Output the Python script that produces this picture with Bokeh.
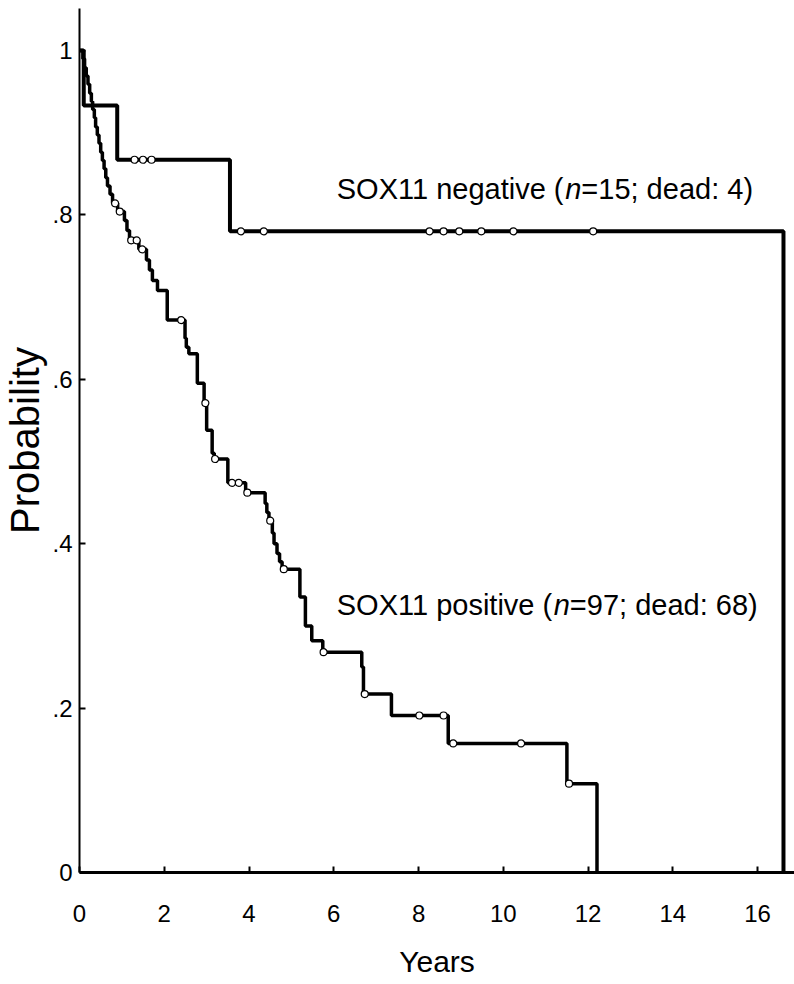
from bokeh.plotting import figure
from bokeh.models import Range1d, FixedTicker, CustomJSTickFormatter
from bokeh.core.properties import value
from bokeh.embed import file_html
from bokeh.resources import INLINE

# ---------------- data ----------------
# SOX11 negative (n=15; dead: 4): Kaplan-Meier step points (year of drop, survival after drop)
neg_step_years = [0.00, 0.10, 0.89, 3.55, 16.61]
neg_step_surv = [1.000, 0.933, 0.867, 0.780, 0.000]
neg_censor_years = [1.30, 1.50, 1.70, 3.81, 4.35, 8.26, 8.59, 8.96, 9.48, 10.24, 12.12]

# SOX11 positive (n=97; dead: 68)
pos_step_years = [0.00, 0.08, 0.12, 0.16, 0.20, 0.24, 0.28, 0.31, 0.35, 0.38, 0.42, 0.46,
                  0.50, 0.54, 0.58, 0.62, 0.66, 0.72, 0.78, 0.90, 1.06, 1.12, 1.18, 1.40,
                  1.58, 1.65, 1.72, 1.84, 2.07, 2.49, 2.52, 2.58, 2.78, 2.94, 3.00, 3.13,
                  3.18, 3.50, 3.92, 4.38, 4.42, 4.47, 4.55, 4.59, 4.66, 4.72, 4.78, 5.20,
                  5.33, 5.48, 5.74, 6.66, 6.70, 7.36, 8.70, 11.50, 12.21]
pos_step_surv = [1.000, 0.990, 0.979, 0.969, 0.959, 0.948, 0.938, 0.928, 0.918, 0.907, 0.897, 0.887,
                 0.876, 0.866, 0.856, 0.845, 0.835, 0.825, 0.814, 0.804, 0.793, 0.781, 0.769, 0.758,
                 0.745, 0.733, 0.720, 0.708, 0.672, 0.650, 0.639, 0.631, 0.595, 0.571, 0.538, 0.510,
                 0.503, 0.474, 0.462, 0.449, 0.438, 0.428, 0.413, 0.400, 0.388, 0.378, 0.369, 0.335,
                 0.300, 0.282, 0.268, 0.250, 0.217, 0.191, 0.157, 0.108, 0.000]
pos_censor_years = [0.84, 0.95, 1.22, 1.35, 1.48, 2.40, 2.97, 3.20, 3.60, 3.76, 3.96, 4.50,
                    4.82, 5.76, 6.73, 8.02, 8.59, 8.82, 10.42, 11.55]

x_ticks = [0, 2, 4, 6, 8, 10, 12, 14, 16]
y_ticks = [0, 0.2, 0.4, 0.6, 0.8, 1.0]

neg_label = ["SOX11 negative (", "n", "=15; dead: 4)"]
pos_label = ["SOX11 positive (", "n", "=97; dead: 68)"]


def surv_at(t, years, surv):
    s = surv[0]
    for yr, sv in zip(years, surv):
        if yr <= t:
            s = sv
    return s


FONT = "Liberation Sans"

p = figure(width=794, height=984, output_backend="svg", toolbar_location=None,
           x_range=Range1d(0, 16.87), y_range=Range1d(0, 1.051),
           min_border_left=77, min_border_right=0, min_border_top=8, min_border_bottom=112)
p.outline_line_color = None
p.grid.visible = False
p.background_fill_color = "white"
p.border_fill_color = "white"

# curves
p.step(neg_step_years, neg_step_surv, mode="after", line_color="black", line_width=4)
p.step(pos_step_years, pos_step_surv, mode="after", line_color="black", line_width=3.5)

# censor marks
neg_cy = [surv_at(t, neg_step_years, neg_step_surv) for t in neg_censor_years]
pos_cy = [surv_at(t, pos_step_years, pos_step_surv) for t in pos_censor_years]
p.scatter(neg_censor_years, neg_cy, marker="circle", size=7, fill_color="white",
          line_color="black", line_width=1.2)
p.scatter(pos_censor_years, pos_cy, marker="circle", size=7, fill_color="white",
          line_color="black", line_width=1.2)

# labels (normal / italic n / normal)
def label(parts, xs, y):
    styles = ["normal", "italic", "normal"]
    for part, x, st in zip(parts, xs, styles):
        p.text(x=[x], y=[y], text=[part], text_font=value(FONT), text_font_size="29px",
               text_font_style=st, text_color="black", text_baseline="middle", text_align="left")

label(neg_label, [6.07, 11.46, 11.84], 0.832)
label(pos_label, [6.07, 11.19, 11.57], 0.325)

# axes
for ax in (p.xaxis[0], p.yaxis[0]):
    ax.major_tick_in = 6
    ax.major_tick_out = 0
    ax.minor_tick_line_color = None
    ax.major_tick_line_width = 2
    ax.major_label_text_font = FONT
    ax.major_label_text_font_size = "24px"
    ax.major_label_text_color = "black"
    ax.axis_label_text_font = FONT
    ax.axis_label_text_font_style = "normal"
    ax.axis_label_text_color = "black"
    ax.axis_line_color = "black"

p.xaxis.axis_label_text_font_size = "30px"
p.yaxis.axis_label_text_font_size = "40px"
p.xaxis.axis_line_width = 3
p.yaxis.axis_line_width = 2
p.xaxis.ticker = FixedTicker(ticks=x_ticks)
p.yaxis.ticker = FixedTicker(ticks=y_ticks)
p.yaxis.formatter = CustomJSTickFormatter(
    code="if (tick == 0) return '0'; if (Math.abs(tick-1) < 1e-9) return '1'; return tick.toFixed(1).replace(/^0/, '');")
p.xaxis.axis_label = "Years"
p.yaxis.axis_label = "Probability"
p.xaxis.major_label_standoff = 32
p.yaxis.major_label_standoff = 7
p.xaxis.axis_label_standoff = 20
p.yaxis.axis_label_standoff = 2

open("out.html", "w").write(file_html(p, INLINE))
